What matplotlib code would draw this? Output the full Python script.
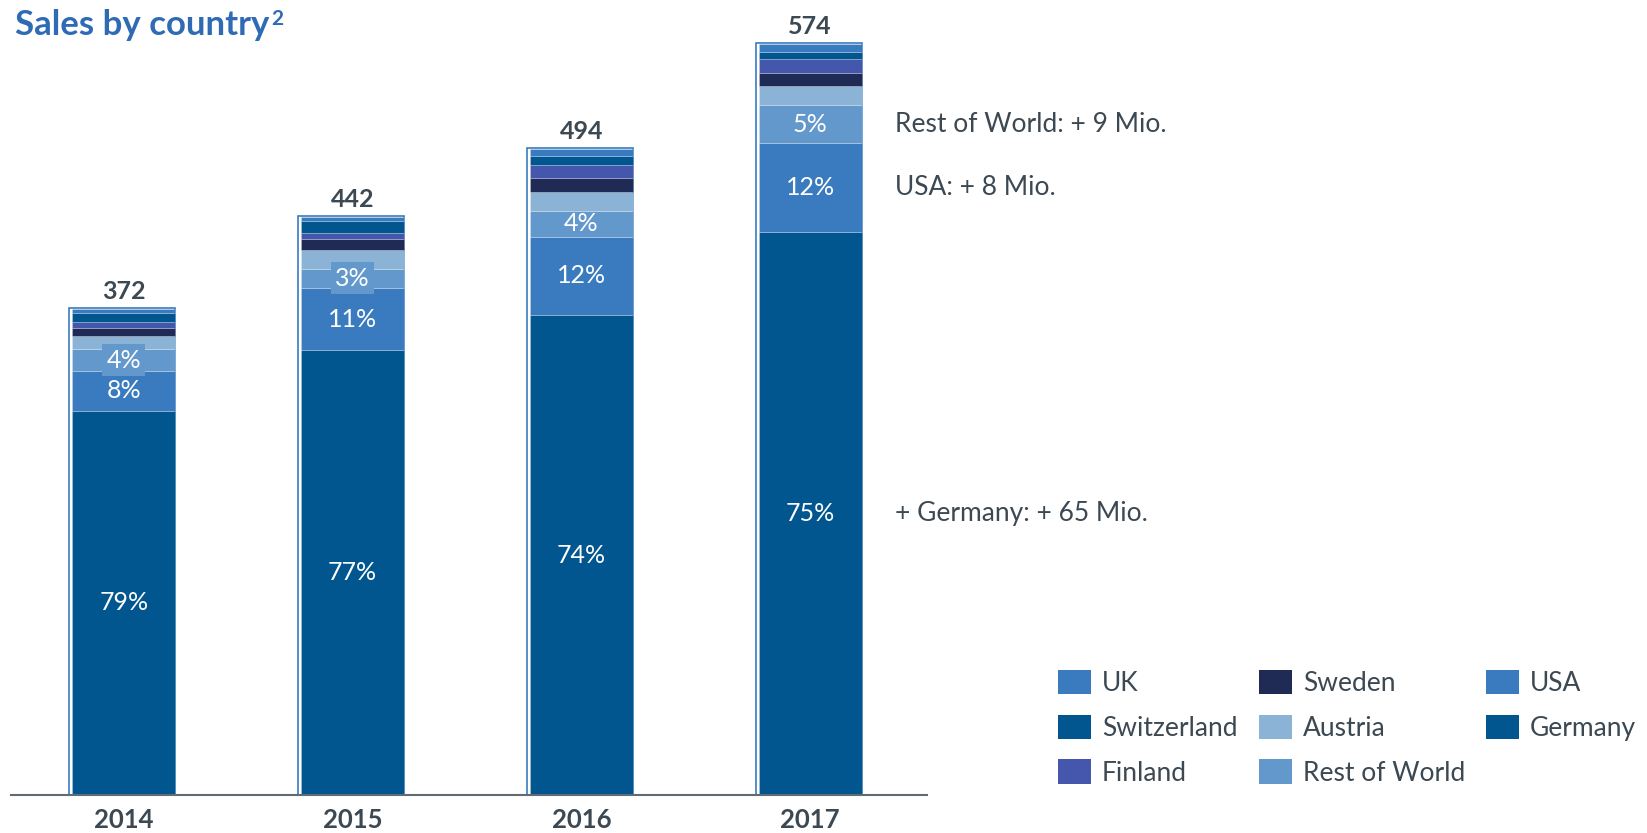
import numpy as np
import matplotlib.pyplot as plt
from matplotlib.patches import Patch

plt.rcParams['font.family'] = ['Lato', 'DejaVu Sans']

years = ['2014', '2015', '2016', '2017']
totals = [372, 442, 494, 574]

# stacked from the bottom up
germany = [294, 340, 367, 430.5]
usa = [30, 48, 60, 68]
rest_of_world = [17, 14.5, 20, 29]
austria = [10, 14, 14, 15]
sweden = [6, 9, 11, 10]
finland = [4.5, 4.5, 9.5, 10]
switzerland = [7, 9, 7, 6]
uk = [3.5, 3, 5.5, 5.5]

pct_germany = ['79%', '77%', '74%', '75%']
pct_usa = ['8%', '11%', '12%', '12%']
pct_row = ['4%', '3%', '4%', '5%']

growth_notes = ['Rest of World: + 9 Mio.', 'USA: + 8 Mio.', '+ Germany: + 65 Mio.']

c_dark = '#02568F'
c_mid = '#3A7BBF'
c_row = '#6398CD'
c_austria = '#8AB3D6'
c_sweden = '#1F2A55'
c_finland = '#4557AD'
c_text = '#3C4852'
c_title = '#2F6BB5'

def main():
    fig = plt.figure(figsize=(16.47, 8.33), dpi=100)
    ax = fig.add_axes([11 / 1647, 38 / 833, 916 / 1647, 795 / 833])

    x = np.arange(len(years))
    w = 0.45
    px = 1 / 229.0  # one pixel in x data units

    # thin outline frame behind each stack
    ax.bar(x - 1.5 * px, np.array(totals) + 0.8, width=w + 3 * px,
           facecolor='white', edgecolor=c_mid, linewidth=1.2, zorder=1)

    series = [
        ('Germany', germany, c_dark),
        ('USA', usa, c_mid),
        ('Rest of World', rest_of_world, c_row),
        ('Austria', austria, c_austria),
        ('Sweden', sweden, c_sweden),
        ('Finland', finland, c_finland),
        ('Switzerland', switzerland, c_dark),
        ('UK', uk, c_mid),
    ]
    bottom = np.zeros(len(years))
    seg = {}
    for name, vals, col in series:
        vals = np.array(vals, dtype=float)
        ax.bar(x, vals, width=w, bottom=bottom, color=col,
               edgecolor=(1, 1, 1, 0.25), linewidth=0.6, zorder=2)
        seg[name] = (bottom.copy(), vals)
        bottom = bottom + vals

    # percentage labels at segment centres
    for name, labels in [('Germany', pct_germany), ('USA', pct_usa), ('Rest of World', pct_row)]:
        b, v = seg[name]
        for i in range(len(years)):
            box = None
            if name == 'Rest of World' and v[i] < 18:
                box = dict(facecolor=c_row, edgecolor='none', pad=3)
            ax.text(x[i], b[i] + v[i] / 2, labels[i], color='white', fontsize=18,
                    ha='center', va='center', zorder=4, bbox=box)

    # totals above the bars
    for i in range(len(years)):
        ax.annotate(str(totals[i]), (x[i], totals[i]), xytext=(0, 10),
                    textcoords='offset pixels', ha='center', va='baseline',
                    fontsize=18, fontweight='bold', color=c_text)

    # growth notes next to the 2017 bar
    last = len(years) - 1
    for name, note in zip(['Rest of World', 'USA', 'Germany'], growth_notes):
        b, v = seg[name]
        ax.annotate(note, (x[last] + w / 2, b[last] + v[last] / 2), xytext=(33, 0),
                    textcoords='offset pixels', ha='left', va='center',
                    fontsize=19, color=c_text)

    ax.set_xlim(-0.493, 3.511)
    ax.set_ylim(0, 608)
    ax.set_xticks(x)
    ax.set_xticklabels(years, fontsize=18.5, fontweight='bold', color=c_text)
    ax.tick_params(axis='x', length=0, pad=9)
    ax.set_yticks([])
    for s in ['top', 'right', 'left']:
        ax.spines[s].set_visible(False)
    ax.spines['bottom'].set_color('#5F6B75')
    ax.spines['bottom'].set_linewidth(1.5)
    ax.patch.set_alpha(0)

    title = fig.text(15 / 1647, 1 - 35 / 833, 'Sales by country', fontsize=25,
                     fontweight='bold', color=c_title, ha='left', va='baseline')
    fig.canvas.draw()
    ax.annotate('2', xy=(1, 1), xycoords=title, xytext=(2, -16),
                textcoords='offset pixels', fontsize=15, fontweight='bold',
                color=c_title, ha='left', va='baseline')

    legend_order = ['UK', 'Switzerland', 'Finland', 'Sweden', 'Austria',
                    'Rest of World', 'USA', 'Germany']
    colors = {name: col for name, _, col in series}
    handles = [Patch(facecolor=colors[n], edgecolor='none', label=n) for n in legend_order]
    leg = fig.legend(handles=handles, ncol=3, loc='upper left',
                     bbox_to_anchor=(1058 / 1647, 1 - 670 / 833), frameon=False,
                     fontsize=19, handlelength=1.25, handleheight=1.05,
                     handletextpad=0.42, columnspacing=0.8, labelspacing=0.7,
                     borderpad=0, borderaxespad=0)
    for t in leg.get_texts():
        t.set_color(c_text)

    plt.savefig('out.png', dpi=100)

if __name__ == '__main__':
    main()
